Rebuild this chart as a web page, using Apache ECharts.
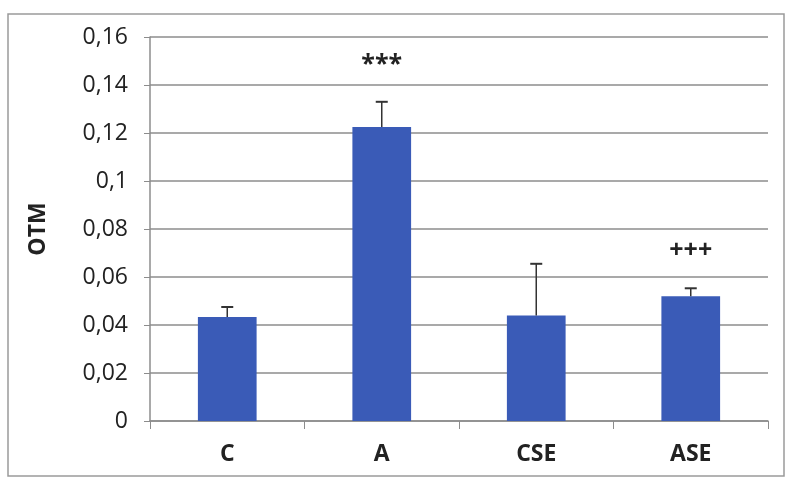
<!DOCTYPE html>
<html>
<head>
<meta charset="utf-8">
<script src="https://cdn.jsdelivr.net/npm/echarts@6/dist/echarts.min.js"></script>
<style>
  html, body { margin: 0; padding: 0; background: #fff; }
  #chart { width: 790px; height: 482px; }
</style>
</head>
<body>
<div id="chart"></div>
<script>
  // data
  var groups = ['C', 'A', 'CSE', 'ASE'];
  var means = [0.0433, 0.1225, 0.0440, 0.0520];
  var errTops = [0.0475, 0.1330, 0.0655, 0.0553];
  var marks = ['', '***', '', '+++'];
  var yTicks = [0, 0.02, 0.04, 0.06, 0.08, 0.1, 0.12, 0.14, 0.16];

  var font = '"Open Sans", sans-serif';
  var chart = echarts.init(document.getElementById('chart'));

  chart.setOption({
    animation: false,
    backgroundColor: '#fff',
    graphic: [{
      type: 'rect',
      shape: { x: 8, y: 14, width: 776, height: 462 },
      style: { fill: 'none', stroke: '#9a9a9a', lineWidth: 1.5 }
    }],
    grid: { left: 150, right: 22, top: 37, bottom: 61 },
    xAxis: {
      type: 'category',
      data: groups,
      axisLine: { lineStyle: { color: '#8c8c8c', width: 1.5 } },
      axisTick: { show: true, length: 8, lineStyle: { color: '#8c8c8c' } },
      axisLabel: { color: '#222', fontFamily: font, fontWeight: 'bold', fontSize: 23, margin: 22 }
    },
    yAxis: {
      type: 'value',
      min: 0,
      max: yTicks[yTicks.length - 1],
      interval: 0.02,
      name: 'OTM',
      nameLocation: 'middle',
      nameGap: 100,
      nameTextStyle: { color: '#222', fontFamily: font, fontWeight: 'bold', fontSize: 23 },
      axisLine: { show: true, lineStyle: { color: '#8c8c8c', width: 1.5 } },
      axisTick: { show: true, length: 6, lineStyle: { color: '#8c8c8c' } },
      splitLine: { lineStyle: { color: '#8c8c8c', width: 1.5 } },
      axisLabel: {
        color: '#222', fontFamily: font, fontSize: 23, margin: 22,
        formatter: function (v) { return String(+v.toFixed(2)).replace('.', ','); }
      }
    },
    series: [{
      type: 'bar',
      data: means,
      barWidth: '38%',
      itemStyle: { color: '#3a5bb7' }
    }, {
      type: 'custom',
      data: groups.map(function (g, i) { return [i, means[i], errTops[i]]; }),
      renderItem: function (params, api) {
        var base = api.coord([api.value(0), api.value(1)]);
        var top = api.coord([api.value(0), api.value(2)]);
        var x = base[0];
        var children = [{
          type: 'line',
          shape: { x1: x, y1: base[1], x2: x, y2: top[1] },
          style: { stroke: '#333', lineWidth: 1.5 }
        }, {
          type: 'line',
          shape: { x1: x - 6, y1: top[1], x2: x + 6, y2: top[1] },
          style: { stroke: '#333', lineWidth: 2 }
        }];
        var m = marks[params.dataIndex];
        if (m) {
          children.push({
            type: 'text',
            style: {
              x: x, y: top[1] - 37, text: m,
              align: 'center', verticalAlign: 'middle',
              font: 'bold 25px ' + font, fill: '#222'
            }
          });
        }
        return { type: 'group', children: children };
      },
      z: 3
    }]
  });
</script>
</body>
</html>
